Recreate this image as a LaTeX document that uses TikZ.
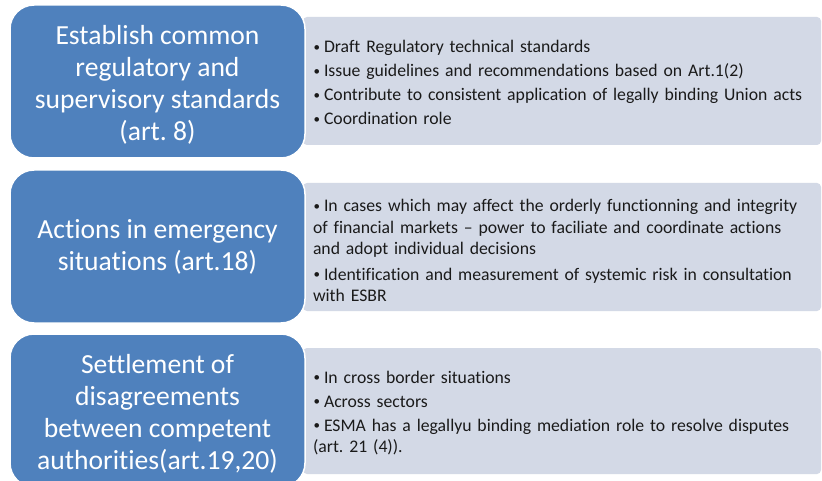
\documentclass[tikz,border=0pt]{standalone}
\usepackage{fontspec}
\setmainfont{Carlito}[Ligatures={NoCommon,NoContextual}]
\frenchspacing
\definecolor{headblue}{HTML}{4F81BD}
\definecolor{listgray}{HTML}{D3D9E6}
\definecolor{listtext}{HTML}{1A1A1A}
% bullet item with hanging indent
\newcommand\listitem{\par\hangindent=11pt\hangafter=1\noindent
  \makebox[11pt][l]{\hspace{0.5pt}\raisebox{1.2pt}{\fontsize{13}{13}\selectfont\textbullet}}}
\tikzset{
  headbox/.style={fill=headblue, draw=white, line width=1.5pt, rounded corners=24pt,
    minimum width=295pt, minimum height=153pt, inner sep=0pt},
  headtext/.style={text=white, align=center, inner sep=0pt,
    font=\fontsize{27.6}{32}\selectfont},
  listbox/.style={fill=listgray, rounded corners=4pt,
    minimum width=518pt, minimum height=128pt, inner sep=0pt},
  listtext/.style={anchor=west, text width=498pt, inner sep=0pt,
    text=listtext, align=left, font=\fontsize{17.7}{21.5}\selectfont}
}
\begin{document}
\begin{tikzpicture}[x=1pt, y=-1pt]
  \useasboundingbox (0,0) rectangle (822,481);
  \clip (0,0) rectangle (822,481);
  \fill[white] (0,0) rectangle (822,481);

  % detail panels
  \node[listbox] (g1) at (562,81) {};
  \node[listbox] (g2) at (562,247) {};
  \node[listbox, minimum height=126pt] (g3) at (562,411) {};

  \node[listtext] (l1) at ([xshift=10pt, yshift=4pt]g1.west) {\setlength\parskip{2.5pt}%
    \listitem Draft Regulatory technical standards
    \listitem Issue guidelines and recommendations based on Art.1(2)
    \listitem Contribute to consistent application of legally binding Union acts
    \listitem Coordination role};
  \node[listtext] (l2) at ([xshift=10pt, yshift=3pt]g2.west) {\setlength\parskip{4pt}%
    \listitem In cases which may affect the orderly functionning and integrity\\
    of financial markets -- power to faciliate and coordinate actions\\
    and adopt individual decisions
    \listitem Identification and measurement of systemic risk in consultation\\
    with ESBR};
  \node[listtext] (l3) at ([xshift=10pt, yshift=4pt]g3.west) {\setlength\parskip{2.5pt}%
    \listitem In cross border situations
    \listitem Across sectors
    \listitem ESMA has a legallyu binding mediation role to resolve disputes\\
    (art. 21 (4)).};

  % headline boxes
  \node[headbox] (b1) at (157.5,81.5) {};
  \node[headbox] (b2) at (157.5,246.5) {};
  \node[headbox] (b3) at (157.5,410.5) {};

  \node[headtext] (h1) at ([yshift=-3pt]b1.center) {Establish common\\regulatory and\\supervisory standards\\(art. 8)};
  \node[headtext] (h2) at (b2.center) {Actions in emergency\\situations (art.18)};
  \node[headtext] (h3) at ([yshift=-3pt]b3.center) {Settlement of\\disagreements\\between competent\\authorities(art.19,20)};
\end{tikzpicture}
\end{document}
